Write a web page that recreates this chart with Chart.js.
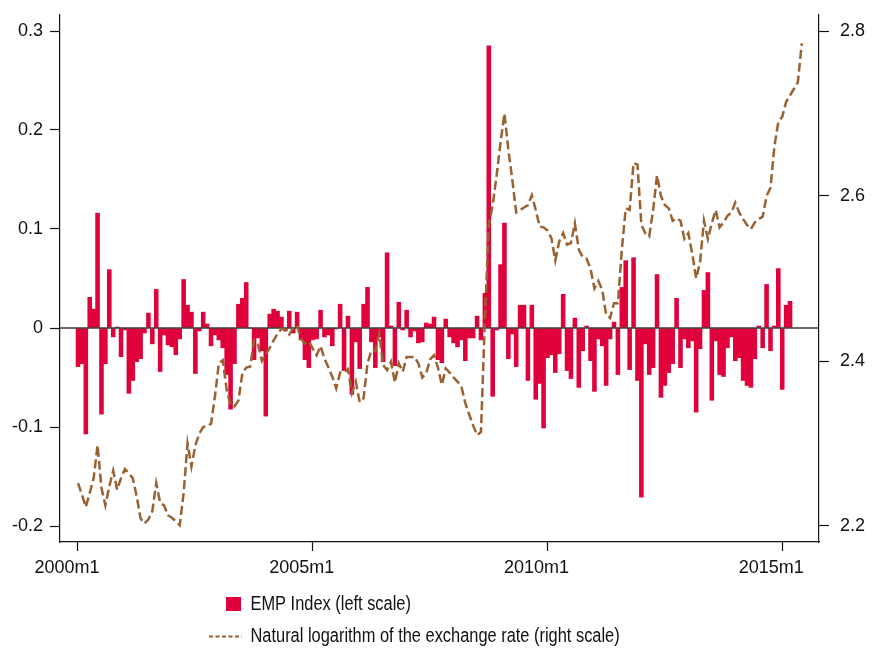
<!DOCTYPE html>
<html lang="en">
<head>
  <meta charset="UTF-8">
  <title>EMP Index and exchange rate</title>
  <script src="https://cdn.jsdelivr.net/npm/chart.js"></script>
  <style>
    body { margin: 0; background: #fff; }
    #wrap { width: 872px; height: 648px; }
  </style>
</head>
<body>
  <div id="wrap"><canvas id="empChart" width="872" height="648"></canvas></div>

  <script>
    // monthly series, 2000m1 onward
    const startYear = 2000;

    // EMP index (left scale), 2000m1 - 2015m3
    const empIndex = [
      -0.039, -0.036, -0.107, 0.031, 0.019, 0.116, -0.087, -0.036, 0.059, -0.009, 0.001, -0.029,
      -0.002, -0.066, -0.053, -0.034, -0.031, -0.005, 0.015, -0.016, 0.039, -0.044, -0.007, -0.017,
      -0.019, -0.027, -0.011, 0.049, 0.023, 0.016, -0.046, -0.003, 0.016, 0.004, -0.018, -0.007,
      -0.012, -0.020, -0.047, -0.082, -0.036, 0.024, 0.030, 0.046, 0.000, -0.032, -0.010, -0.023,
      -0.089, 0.014, 0.019, 0.017, 0.011, -0.003, 0.017, -0.005, 0.016, -0.012, -0.032, -0.040,
      -0.012, -0.011, 0.018, -0.009, -0.007, -0.018, -0.001, 0.024, -0.043, 0.012, -0.067, -0.014,
      -0.041, 0.024, 0.041, -0.014, -0.040, -0.009, -0.034, 0.076, 0.002, -0.038, 0.026, -0.002,
      0.018, -0.009, -0.003, -0.015, -0.014, 0.005, 0.004, 0.011, -0.032, -0.035, 0.009, -0.009,
      -0.015, -0.019, -0.012, -0.033, -0.010, -0.010, 0.012, -0.012, 0.035, 0.285, -0.069, -0.002,
      0.064, 0.106, -0.031, -0.006, -0.039, 0.023, 0.023, -0.053, 0.023, -0.072, -0.056, -0.101,
      -0.030, -0.027, -0.045, -0.026, 0.034, -0.043, -0.051, 0.010, -0.060, -0.023, 0.002, -0.033,
      -0.064, -0.011, -0.018, -0.058, -0.011, 0.006, -0.047, 0.041, 0.068, -0.042, 0.071, -0.053,
      -0.171, -0.016, -0.047, -0.040, 0.054, -0.070, -0.058, -0.045, -0.036, 0.030, -0.040, -0.011,
      -0.020, -0.013, -0.085, -0.021, 0.038, 0.056, -0.073, -0.013, -0.047, -0.049, -0.020, -0.009,
      -0.033, -0.030, -0.053, -0.058, -0.060, -0.031, 0.002, -0.020, 0.044, -0.023, 0.002, 0.060,
      -0.062, 0.023, 0.027
    ];

    // natural log of the exchange rate (right scale), 2000m1 - 2015m6
    const logRate = [
      2.252, 2.238, 2.223, 2.240, 2.258, 2.298, 2.246, 2.225, 2.248, 2.267, 2.244, 2.258,
      2.269, 2.264, 2.258, 2.236, 2.209, 2.203, 2.208, 2.218, 2.252, 2.228, 2.225, 2.213,
      2.210, 2.206, 2.201, 2.240, 2.300, 2.272, 2.298, 2.312, 2.320, 2.321, 2.324, 2.357,
      2.397, 2.401, 2.365, 2.347, 2.345, 2.352, 2.385, 2.392, 2.393, 2.425, 2.420, 2.400,
      2.408, 2.416, 2.425, 2.433, 2.439, 2.438, 2.432, 2.440, 2.443, 2.427, 2.421, 2.424,
      2.415, 2.407, 2.418, 2.403, 2.392, 2.381, 2.367, 2.386, 2.386, 2.390, 2.361, 2.375,
      2.350, 2.355, 2.397, 2.413, 2.412, 2.433, 2.395, 2.389, 2.399, 2.374, 2.397, 2.387,
      2.405, 2.405, 2.405, 2.397, 2.380, 2.385, 2.402, 2.407, 2.392, 2.371, 2.391, 2.386,
      2.380, 2.375, 2.369, 2.349, 2.335, 2.322, 2.310, 2.314, 2.450, 2.565, 2.589, 2.625,
      2.665, 2.700, 2.656, 2.620, 2.580, 2.583, 2.586, 2.589, 2.601, 2.583, 2.563, 2.562,
      2.558, 2.549, 2.522, 2.545, 2.555, 2.541, 2.543, 2.567, 2.535, 2.526, 2.524, 2.512,
      2.488, 2.497, 2.486, 2.456, 2.452, 2.470, 2.470, 2.535, 2.585, 2.583, 2.640, 2.638,
      2.565, 2.555, 2.551, 2.583, 2.625, 2.600, 2.589, 2.585, 2.570, 2.573, 2.570, 2.548,
      2.555, 2.530, 2.500, 2.520, 2.570, 2.548, 2.567, 2.583, 2.562, 2.568, 2.576, 2.580,
      2.592, 2.580, 2.572, 2.565, 2.560, 2.568, 2.572, 2.575, 2.600, 2.610, 2.660, 2.690,
      2.696, 2.714, 2.722, 2.730, 2.738, 2.785
    ];

    const xTickLabels = ['2000m1', '2005m1', '2010m1', '2015m1'];
    const leftTicks = [-0.2, -0.1, 0, 0.1, 0.2, 0.3];
    const rightTicks = [2.2, 2.4, 2.6, 2.8];

    const legendLabels = ['EMP Index (left scale)', 'Natural logarithm of the exchange rate (right scale)'];

    // month labels like 2000m1
    const months = [];
    for (let i = 0; i < logRate.length; i++) {
      months.push((startYear + Math.floor(i / 12)) + 'm' + (i % 12 + 1));
    }

    const FONT = "'Liberation Sans', Arial, sans-serif";
    const RED = '#e0003a';
    const BROWN = '#9a6131';

    const barData = empIndex.map((v, i) => ({ x: i, y: v }));
    const lineData = logRate.map((v, i) => ({ x: i, y: v }));

    // zero line, drawn after the bars and before the exchange rate line
    const zeroLine = {
      id: 'zeroLine',
      beforeDatasetDraw(chart, args) {
        if (args.index !== 0) return;
        const { ctx, chartArea } = chart;
        const y = chart.scales.y.getPixelForValue(0);
        ctx.save();
        ctx.strokeStyle = '#3a3a3a';
        ctx.lineWidth = 1.5;
        ctx.beginPath();
        ctx.moveTo(chartArea.left, y);
        ctx.lineTo(chartArea.right, y);
        ctx.stroke();
        ctx.restore();
      }
    };

    // legend stacked under the axis, narrow lettering like the original
    const stackedLegend = {
      id: 'stackedLegend',
      afterDraw(chart) {
        const ctx = chart.ctx;
        ctx.save();
        ctx.fillStyle = RED;
        ctx.fillRect(226, 597, 15, 14);
        ctx.strokeStyle = BROWN;
        ctx.lineWidth = 2;
        ctx.setLineDash([4, 2.5]);
        ctx.beginPath();
        ctx.moveTo(209, 636.5);
        ctx.lineTo(242, 636.5);
        ctx.stroke();
        ctx.setLineDash([]);
        ctx.fillStyle = '#111';
        ctx.font = '20px ' + FONT;
        ctx.textBaseline = 'middle';
        ctx.translate(250.5, 0);
        ctx.scale(0.82, 1);
        ctx.fillText(legendLabels[0], 0, 604);
        ctx.fillText(legendLabels[1], 0, 636);
        ctx.restore();
      }
    };

    const axisFont = { family: FONT, size: 18 };
    const axisGrid = { drawOnChartArea: false, offset: false, tickLength: 10, tickColor: '#111', tickWidth: 1.2 };
    const axisBorder = { color: '#111', width: 1.2 };

    function noPadding(scale) {
      scale.paddingTop = 0;
      scale.paddingBottom = 0;
      scale.paddingLeft = 0;
      scale.paddingRight = 0;
    }

    new Chart(document.getElementById('empChart'), {
      type: 'bar',
      data: {
        datasets: [
          {
            type: 'line',
            label: legendLabels[1],
            data: lineData,
            yAxisID: 'y1',
            borderColor: BROWN,
            borderWidth: 2.5,
            borderDash: [9, 4],
            pointRadius: 0,
            tension: 0,
            order: 0
          },
          {
            label: legendLabels[0],
            data: barData,
            yAxisID: 'y',
            backgroundColor: RED,
            borderWidth: 0,
            categoryPercentage: 1,
            barPercentage: 1,
            order: 1
          }
        ]
      },
      options: {
        responsive: false,
        animation: false,
        layout: { padding: { top: 15, left: 0, right: 0, bottom: 0 } },
        plugins: {
          legend: { display: false },
          tooltip: { enabled: false }
        },
        scales: {
          x: {
            type: 'linear',
            offset: false,
            min: -4.6,
            max: 189.4,
            afterBuildTicks(scale) {
              scale.ticks = xTickLabels.map(l => ({ value: months.indexOf(l) }));
            },
            afterFit(scale) { scale.height = 106; noPadding(scale); },
            ticks: {
              font: axisFont,
              color: '#111',
              padding: 6,
              labelOffset: -11,
              maxRotation: 0,
              autoSkip: false,
              callback: v => months[v]
            },
            grid: Object.assign({}, axisGrid, { tickLength: 9 }),
            border: axisBorder
          },
          y: {
            position: 'left',
            min: -0.2 - 16 / 990,
            max: 0.3 + 16 / 990,
            afterBuildTicks(scale) {
              scale.ticks = leftTicks.map(v => ({ value: v }));
            },
            afterFit(scale) { scale.width = 60; noPadding(scale); },
            ticks: {
              font: axisFont,
              color: '#111',
              padding: 7,
              callback: v => String(Math.round(v * 10) / 10)
            },
            grid: axisGrid,
            border: axisBorder
          },
          y1: {
            position: 'right',
            min: 2.2 - 16 / 825,
            max: 2.8 + 16 / 825,
            afterBuildTicks(scale) {
              scale.ticks = rightTicks.map(v => ({ value: v }));
            },
            afterFit(scale) { scale.width = 53; noPadding(scale); },
            ticks: {
              font: axisFont,
              color: '#111',
              padding: 11,
              callback: v => v.toFixed(1)
            },
            grid: axisGrid,
            border: axisBorder
          }
        }
      },
      plugins: [zeroLine, stackedLegend]
    });
  </script>
</body>
</html>
